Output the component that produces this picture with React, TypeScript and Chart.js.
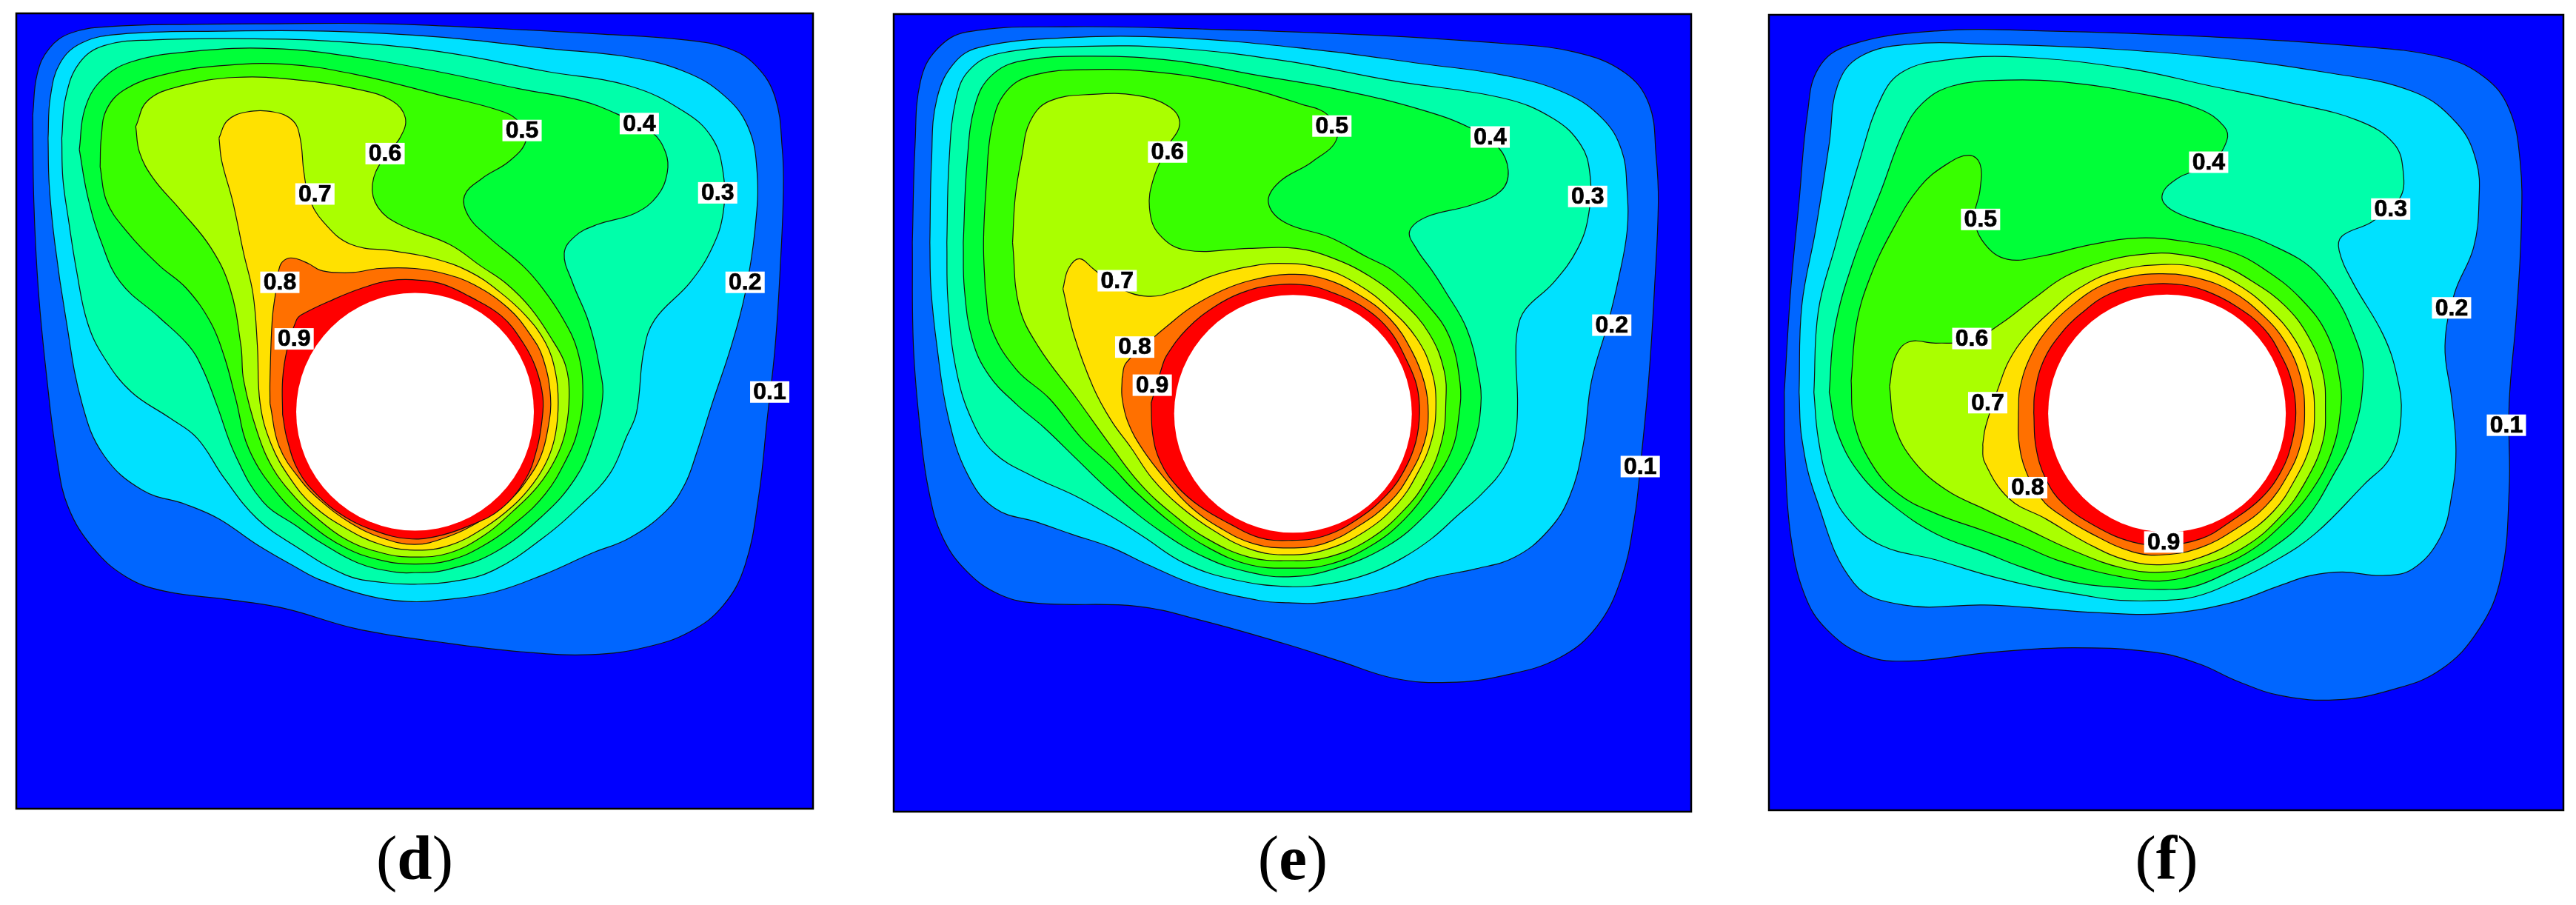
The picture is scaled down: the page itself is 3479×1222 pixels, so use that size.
import React, { useEffect, useRef } from "react";
import { Chart, registerables } from "chart.js";

Chart.register(...registerables);

type P = [number, number];

const levelNames = ["0.1", "0.2", "0.3", "0.4", "0.5", "0.6", "0.7", "0.8", "0.9"];
const levelColors = ["#0066ff", "#00e1ff", "#00ffaa", "#00ff38", "#38ff00", "#aaff00", "#ffe100", "#ff7000", "#ff0000"];
const backgroundBlue = "#0000ff";

// Panel (d)
const d01: P[] = [[60,200],[68,130],[90,85],[130,58],[200,47],[350,43],[500,42],[700,42],[900,50],[1100,60],[1250,70],[1330,85],[1380,115],[1415,170],[1428,260],[1430,330],[1425,450],[1415,600],[1400,730],[1385,860],[1360,980],[1320,1050],[1260,1095],[1180,1122],[1080,1135],[950,1130],[800,1113],[650,1090],[520,1055],[420,1040],[300,1025],[230,1000],[170,950],[125,880],[105,800],[85,650],[70,500],[62,350],[60,200]];
const d02: P[] = [[88,240],[92,170],[110,110],[150,75],[220,60],[400,55],[600,55],[800,65],[1000,85],[1150,100],[1250,125],[1320,165],[1365,220],[1382,300],[1378,400],[1360,510],[1335,600],[1300,700],[1270,790],[1250,840],[1216,886],[1149,933],[1081,959],[991,997],[901,1027],[811,1040],[743,1043],[676,1034],[586,1006],[541,984],[470,945],[400,900],[340,875],[260,850],[190,790],[150,700],[120,550],[100,420],[90,320],[88,240]];
const d03: P[] = [[113,240],[120,170],[145,110],[190,80],[280,70],[450,68],[600,72],[800,90],[1000,125],[1150,150],[1250,195],[1300,240],[1320,300],[1320,370],[1300,430],[1260,490],[1195,555],[1175,610],[1162,715],[1144,757],[1113,822],[1059,877],[991,933],[901,989],[829,1008],[757,1013],[698,1010],[631,997],[541,948],[470,900],[410,830],[360,760],[310,725],[240,680],[190,620],[160,560],[140,470],[125,380],[115,310],[113,240]];
const d04: P[] = [[145,260],[155,190],[185,140],[240,108],[350,90],[500,85],[650,100],[800,125],[950,155],[1060,175],[1130,200],[1190,230],[1215,265],[1218,300],[1200,340],[1160,370],[1090,390],[1050,410],[1030,440],[1045,490],[1075,560],[1095,640],[1100,690],[1081,766],[1050,830],[991,894],[901,959],[811,989],[757,993],[721,992],[653,976],[586,941],[541,912],[480,870],[430,790],[395,700],[370,640],[345,600],[290,550],[220,490],[185,420],[160,340],[145,260]];
const d05: P[] = [[183,290],[185,240],[195,190],[230,155],[300,130],[400,115],[520,112],[650,130],[800,165],[920,195],[950,215],[960,245],[930,280],[880,310],[848,340],[855,375],[890,410],[955,462],[991,501],[1027,552],[1054,608],[1064,680],[1054,749],[1032,800],[996,856],[946,903],[883,946],[820,972],[757,978],[698,972],[631,950],[563,907],[510,860],[455,780],[430,690],[410,620],[385,560],[340,500],[290,460],[230,400],[195,350],[183,290]];
const d06: P[] = [[248,220],[270,175],[330,150],[430,135],[550,140],[650,155],[715,175],[740,205],[730,240],[700,275],[680,320],[690,360],[730,390],[820,424],[878,462],[924,492],[969,535],[1009,591],[1032,633],[1039,685],[1032,749],[1014,796],[982,843],[937,886],[883,929],[820,959],[757,966],[698,959],[631,935],[568,890],[541,865],[500,815],[470,750],[445,660],[440,600],[420,500],[385,430],[330,365],[280,310],[255,265],[248,220]];
const d07: P[] = [[400,240],[415,210],[450,195],[500,195],[535,210],[548,240],[555,300],[565,345],[590,385],[640,424],[721,436],[793,449],[856,471],[910,505],[960,548],[996,595],[1014,646],[1019,698],[1014,753],[1000,796],[973,839],[937,877],[883,916],[820,946],[757,954],[694,944],[631,916],[572,877],[530,830],[495,770],[475,700],[470,600],[462,510],[445,440],[425,350],[405,280],[400,240]];
const d08: P[] = [[493,700],[493,659],[497,556],[503,510],[511,462],[524,449],[541,449],[564,458],[585,469],[612,473],[645,473],[693,466],[757,466],[811,475],[865,494],[928,535],[969,582],[991,621],[1005,689],[1000,745],[987,792],[964,830],[933,865],[878,903],[811,933],[757,944],[698,933],[640,907],[586,869],[550,834],[510,775],[493,700]];
const d09: P[] = [[516,719],[516,659],[524,607],[541,556],[551,546],[608,520],[658,501],[712,487],[774,487],[811,494],[856,514],[915,548],[955,595],[978,638],[991,689],[989,732],[980,779],[960,830],[915,882],[856,912],[793,931],[743,934],[689,922],[631,897],[581,860],[545,817],[524,761],[516,719]];

// Panel (e)
const e01: P[] = [[70,420],[75,250],[85,140],[115,85],[170,55],[350,46],[600,50],[900,60],[1150,75],[1280,90],[1370,125],[1415,180],[1428,270],[1432,350],[1425,500],[1415,650],[1400,800],[1388,900],[1365,1000],[1320,1085],[1250,1140],[1150,1170],[1050,1182],[950,1175],[850,1145],[750,1115],[600,1075],[480,1050],[300,1045],[230,1030],[170,990],[125,930],[100,850],[85,750],[72,600],[70,420]];
const e02: P[] = [[102,420],[105,280],[115,170],[150,105],[200,80],[350,65],[550,65],[800,85],[1000,110],[1150,130],[1260,160],[1330,205],[1365,260],[1375,330],[1375,400],[1360,480],[1340,560],[1310,660],[1295,770],[1270,860],[1230,920],[1170,965],[1100,985],[1018,1001],[951,1021],[816,1044],[757,1044],[703,1040],[590,1014],[500,978],[433,948],[360,925],[300,905],[220,880],[170,820],[135,720],[115,600],[104,500],[102,420]];
const e03: P[] = [[133,420],[137,280],[150,170],[175,120],[230,92],[380,80],[550,83],[750,105],[950,140],[1150,170],[1240,205],[1290,250],[1307,300],[1305,370],[1285,430],[1240,490],[1190,535],[1175,570],[1172,620],[1175,700],[1170,760],[1150,810],[1109,856],[1064,894],[1018,933],[964,967],[906,993],[838,1010],[757,1016],[658,1004],[568,976],[491,929],[433,894],[370,860],[290,825],[220,785],[180,730],[150,640],[135,520],[133,420]];
const e04: P[] = [[163,420],[170,280],[185,180],[215,130],[270,105],[400,97],[550,105],[700,130],[850,155],[1000,190],[1090,222],[1140,255],[1158,295],[1145,330],[1090,355],[1010,375],[978,400],[990,430],[1020,470],[1041,501],[1082,569],[1104,650],[1108,702],[1095,766],[1059,830],[1009,890],[937,946],[838,986],[757,999],[685,991],[608,967],[523,920],[433,852],[370,795],[310,740],[260,700],[210,650],[180,590],[165,500],[163,420]];
const e05: P[] = [[203,500],[200,420],[205,320],[215,220],[240,160],[290,130],[400,120],[520,125],[650,145],[780,180],[830,200],[845,240],[800,280],[740,315],[720,350],[750,385],[830,410],[900,445],[951,471],[1009,526],[1050,582],[1070,663],[1068,719],[1055,779],[1018,839],[969,899],[906,946],[829,978],[757,984],[685,978],[613,950],[545,907],[478,852],[433,807],[380,760],[320,690],[260,640],[215,570],[203,500]];
const e06: P[] = [[253,420],[258,340],[270,270],[285,210],[320,175],[400,163],[480,165],[540,185],[558,215],[535,255],[510,310],[503,360],[520,405],[570,433],[685,430],[771,430],[838,447],[906,479],[964,522],[1014,578],[1041,642],[1044,698],[1037,762],[1009,830],[969,882],[906,933],[829,965],[757,971],[685,965],[608,933],[545,890],[487,839],[433,773],[370,690],[300,600],[265,530],[253,420]];
const e07: P[] = [[345,500],[355,465],[375,448],[400,465],[440,495],[500,513],[559,501],[613,479],[671,464],[739,456],[816,464],[883,492],[942,535],[991,586],[1018,642],[1026,698],[1018,762],[991,822],[955,873],[897,920],[825,952],[757,961],[689,952],[622,920],[559,877],[509,830],[469,775],[433,728],[400,670],[365,580],[345,500]];
const e08: P[] = [[453,655],[460,629],[511,584],[532,567],[581,531],[640,501],[694,484],[757,475],[816,481],[883,509],[942,552],[982,608],[1005,663],[1012,715],[1005,766],[978,822],[942,869],[883,912],[820,942],[757,949],[694,942],[635,916],[577,877],[532,830],[491,779],[464,732],[453,689],[453,655]];
const e09: P[] = [[506,698],[525,638],[534,616],[572,569],[622,531],[671,507],[726,494],[793,494],[838,507],[892,531],[942,573],[973,625],[991,668],[996,715],[989,766],[969,813],[937,856],[883,899],[820,929],[757,936],[703,931],[649,907],[595,877],[554,843],[523,800],[509,753],[506,698]];

// Panel (f)
const f01: P[] = [[123,680],[135,500],[150,350],[165,200],[185,120],[240,80],[400,55],[600,55],[900,65],[1150,80],[1320,100],[1400,135],[1445,190],[1465,280],[1467,400],[1458,550],[1445,700],[1445,850],[1430,1000],[1390,1090],[1320,1160],[1230,1195],[1130,1212],[1030,1205],[950,1180],[880,1150],[800,1130],[650,1122],[500,1130],[350,1145],[270,1135],[200,1090],[160,1030],[135,930],[125,800],[123,680]];
const f02: P[] = [[150,680],[155,530],[180,400],[205,250],[220,150],[260,100],[350,78],[500,78],[700,85],[900,100],[1100,125],[1270,160],[1350,215],[1385,280],[1390,350],[1380,430],[1345,510],[1328,600],[1340,690],[1348,780],[1340,860],[1320,930],[1270,985],[1215,997],[1141,991],[1083,997],[1028,1014],[938,1044],[817,1063],[691,1061],[578,1053],[488,1048],[340,1048],[250,1010],[180,860],[155,760],[150,680]];
const f03: P[] = [[177,680],[185,540],[215,430],[260,280],[300,170],[340,125],[420,105],[550,100],[750,120],[900,150],[1050,180],[1170,210],[1235,250],[1252,300],[1245,345],[1195,385],[1140,410],[1135,435],[1160,490],[1215,580],[1240,650],[1248,720],[1230,790],[1180,840],[1092,924],[1019,971],[938,1010],[871,1034],[817,1040],[736,1040],[668,1031],[578,1016],[488,995],[400,970],[300,945],[240,900],[205,840],[185,760],[177,680]];
const f04: P[] = [[205,680],[215,570],[250,450],[300,330],[340,230],[375,180],[430,150],[530,140],[650,145],[780,165],[880,190],[925,220],[930,245],[900,285],[840,310],[812,340],[830,365],[900,390],[1000,420],[1100,480],[1170,600],[1177,680],[1155,766],[1128,817],[1074,899],[1006,954],[938,989],[871,1016],[817,1021],[736,1018],[646,1008],[555,982],[488,957],[400,925],[320,875],[260,820],[220,750],[205,680]];
const f05: P[] = [[245,660],[255,560],[280,480],[320,400],[370,325],[420,285],[460,270],[480,285],[480,330],[470,380],[490,425],[530,450],[590,445],[680,425],[770,413],[860,420],[938,437],[997,466],[1065,518],[1114,582],[1137,663],[1137,715],[1123,779],[1087,847],[1033,907],[965,959],[893,988],[817,1006],[736,999],[623,971],[555,944],[488,920],[400,890],[330,855],[280,800],[250,730],[245,660]];
const f06: P[] = [[315,670],[325,620],[350,593],[400,595],[465,590],[520,560],[578,518],[637,479],[713,452],[781,441],[839,441],[916,458],[983,492],[1037,531],[1078,582],[1105,646],[1110,706],[1105,766],[1074,834],[1029,894],[965,946],[893,976],[817,991],[740,984],[650,954],[564,916],[488,882],[420,850],[360,800],[325,740],[315,670]];
const f07: P[] = [[485,770],[490,740],[515,668],[533,625],[564,582],[610,539],[659,501],[727,471],[817,459],[884,466],[947,492],[1006,535],[1055,590],[1083,655],[1090,715],[1083,770],[1055,830],[1015,886],[952,933],[884,965],[817,978],[749,971],[677,942],[600,899],[533,864],[488,800],[485,770]];
const f08: P[] = [[550,715],[553,672],[573,616],[605,569],[646,531],[700,496],[758,479],[812,475],[871,481],[938,505],[997,548],[1038,595],[1065,655],[1072,715],[1065,770],[1042,822],[1001,877],[947,916],[884,948],[817,961],[758,956],[682,924],[623,890],[592,864],[564,817],[551,766],[550,715]];
const f09: P[] = [[578,715],[580,680],[596,625],[628,578],[664,544],[718,509],[781,494],[848,494],[893,505],[947,531],[997,569],[1029,616],[1049,663],[1056,715],[1049,766],[1029,817],[992,864],[938,903],[884,933],[817,944],[758,939],[691,912],[632,873],[600,830],[582,775],[578,715]];

const dLabels: P[] = [[1405,680],[1360,490],[1310,335],[1167,215],[953,227],[703,267],[575,337],[511,490],[537,588]];
const eLabels: P[] = [[1399,808],[1347,563],[1303,340],[1125,237],[836,218],[536,263],[444,486],[476,601],[508,667]];
const fLabels: P[] = [[1440,737],[1340,534],[1229,363],[897,282],[481,381],[465,587],[494,698],[567,845],[815,939]];

const dCylinder: P = [757.7, 714.3];
const eCylinder: P = [765, 716.6];
const fCylinder: P = [821, 716.5];

const dContours = [d01, d02, d03, d04, d05, d06, d07, d08, d09];
const eContours = [e01, e02, e03, e04, e05, e06, e07, e08, e09];
const fContours = [f01, f02, f03, f04, f05, f06, f07, f08, f09];

type PanelDef = {
  letter: string;
  contours: P[][];
  labels: P[];
  cylinder: P;
  xRange: P;
  yRange: P;
  rect: { left: number; top: number; width: number; height: number };
  captionX: number;
};

const panels: PanelDef[] = [
  { letter: "d", contours: dContours, labels: dLabels, cylinder: dCylinder, xRange: [30, 1484], yRange: [24, 1402], rect: { left: 22, top: 18, width: 1076, height: 1074 }, captionX: 560 },
  { letter: "e", contours: eContours, labels: eLabels, cylinder: eCylinder, xRange: [36, 1492], yRange: [24, 1406], rect: { left: 1207, top: 19, width: 1077, height: 1077 }, captionX: 1746 },
  { letter: "f", contours: fContours, labels: fLabels, cylinder: fCylinder, xRange: [95, 1544], yRange: [27, 1403], rect: { left: 2389, top: 20, width: 1073, height: 1074 }, captionX: 2926 },
];

const PAD = 2;

function Panel({ def }: { def: PanelDef }) {
  const ref = useRef<HTMLCanvasElement>(null);
  useEffect(() => {
    const datasets: any[] = def.contours.map((pts, i) => ({
      label: levelNames[i],
      data: pts.map(([x, y]) => ({ x, y })),
      showLine: true,
      fill: "shape",
      tension: 0.4,
      backgroundColor: levelColors[i],
      borderColor: "#101010",
      borderWidth: 1.2,
      pointRadius: 0,
      order: 20 - i,
    }));
    datasets.push({
      label: "cylinder",
      data: [{ x: def.cylinder[0], y: def.cylinder[1] }],
      showLine: false,
      pointRadius: 160.5,
      pointHoverRadius: 160.5,
      pointBackgroundColor: "#ffffff",
      pointBorderWidth: 0,
      order: 0,
    });
    const frame = {
      id: "frame",
      beforeDatasetsDraw(chart: any) {
        const { ctx, chartArea: a } = chart;
        ctx.save();
        ctx.fillStyle = backgroundBlue;
        ctx.fillRect(a.left, a.top, a.right - a.left, a.bottom - a.top);
        ctx.restore();
      },
      afterDatasetsDraw(chart: any) {
        const { ctx, chartArea: a, scales } = chart;
        ctx.save();
        ctx.strokeStyle = "#000";
        ctx.lineWidth = 2.5;
        ctx.strokeRect(a.left, a.top, a.right - a.left, a.bottom - a.top);
        ctx.font = 'bold 32px "Liberation Sans", Arial, sans-serif';
        ctx.textAlign = "center";
        ctx.textBaseline = "middle";
        ctx.lineWidth = 0.7;
        ctx.strokeStyle = "#000";
        def.labels.forEach(([x, y], i) => {
          const px = scales.x.getPixelForValue(x);
          const py = scales.y.getPixelForValue(y);
          ctx.fillStyle = "#fff";
          ctx.fillRect(px - 26.5, py - 14.5, 53, 29);
          ctx.fillStyle = "#000";
          ctx.fillText(levelNames[i], px, py + 1);
          ctx.strokeText(levelNames[i], px, py + 1);
        });
        ctx.restore();
      },
    };
    const chart = new Chart(ref.current!, {
      type: "scatter",
      data: { datasets },
      plugins: [frame],
      options: {
        animation: false,
        responsive: false,
        maintainAspectRatio: false,
        layout: { padding: PAD, autoPadding: false },
        events: [],
        plugins: { legend: { display: false }, tooltip: { enabled: false }, title: { display: false } },
        scales: {
          x: { type: "linear", display: false, min: def.xRange[0], max: def.xRange[1] },
          y: { type: "linear", display: false, reverse: true, min: def.yRange[0], max: def.yRange[1] },
        },
      },
    } as any);
    return () => chart.destroy();
  }, [def]);
  const { left, top, width, height } = def.rect;
  return (
    <canvas
      ref={ref}
      width={width + 2 * PAD}
      height={height + 2 * PAD}
      style={{ position: "absolute", left: left - PAD, top: top - PAD, width: width + 2 * PAD, height: height + 2 * PAD }}
    />
  );
}

export default function App() {
  return (
    <div style={{ position: "absolute", left: 0, top: 0, width: 3479, height: 1222, background: "#fff", overflow: "hidden" }}>
      {panels.map((p) => (
        <React.Fragment key={p.letter}>
          <Panel def={p} />
          <div
            style={{
              position: "absolute",
              left: p.captionX - 100,
              width: 200,
              top: 1116,
              textAlign: "center",
              font: '85px/1 "Liberation Serif", "Times New Roman", serif',
              color: "#000",
            }}
          >
            (<b>{p.letter}</b>)
          </div>
        </React.Fragment>
      ))}
    </div>
  );
}
